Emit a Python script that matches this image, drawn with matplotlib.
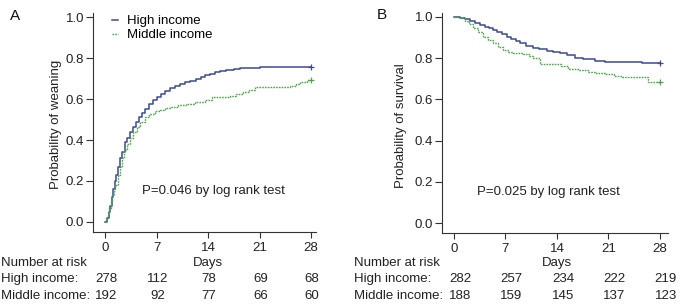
import matplotlib
matplotlib.use("Agg")
import matplotlib.pyplot as plt
import matplotlib.transforms as mtransforms

plt.rcParams['font.family'] = ['Liberation Sans', 'DejaVu Sans']
plt.rcParams['font.size'] = 9.5

BLUE = '#3b4a94'
GREEN = '#4aa84a'

day_ticks = [0, 7, 14, 21, 28]

# panel A: cumulative probability of weaning (step points)
a_high_t = [0, 0.3, 0.5, 0.7, 0.9, 1.1, 1.3, 1.5, 1.8, 2.0, 2.3, 2.7, 3.0, 3.4, 3.8, 4.2,
			4.6, 5.0, 5.5, 6.0, 6.5, 7.0, 7.6, 8.2, 8.8, 9.5, 10.2, 10.9, 11.6, 12.3, 13.0,
			13.6, 14.3, 15.0, 15.6, 16.5, 17.5, 18.3, 19.5, 21.1, 28]
a_high_p = [0, 0.02, 0.05, 0.08, 0.12, 0.16, 0.20, 0.23, 0.27, 0.31, 0.34, 0.39, 0.41, 0.44,
			0.465, 0.49, 0.51, 0.53, 0.55, 0.575, 0.595, 0.61, 0.625, 0.64, 0.655, 0.665, 0.675,
			0.685, 0.69, 0.70, 0.71, 0.715, 0.72, 0.73, 0.738, 0.742, 0.745, 0.75, 0.753, 0.757,
			0.757]
a_mid_t = [0, 0.2, 0.4, 0.6, 0.8, 1.0, 1.2, 1.4, 1.7, 2.0, 2.3, 2.6, 3.0, 3.4, 3.8, 4.3,
		   4.8, 5.4, 6.0, 6.8, 7.5, 8.2, 9.0, 9.9, 11.0, 12.2, 13.6, 14.5, 17.0, 17.8, 18.8,
		   19.6, 20.4, 25.1, 26.0, 26.5, 27.4, 28]
a_mid_p = [0, 0.02, 0.04, 0.07, 0.10, 0.13, 0.16, 0.18, 0.23, 0.27, 0.31, 0.35, 0.38, 0.41,
		   0.44, 0.465, 0.49, 0.51, 0.525, 0.54, 0.548, 0.555, 0.562, 0.57, 0.578, 0.587, 0.595,
		   0.61, 0.615, 0.625, 0.636, 0.645, 0.657, 0.663, 0.672, 0.684, 0.693, 0.693]

# panel B: probability of survival
b_high_t = [0, 0.8, 1.5, 2.2, 2.9, 3.5, 4.2, 4.8, 5.3, 5.9, 6.5, 7.2, 7.8, 8.4, 9.0, 9.8,
			10.8, 11.6, 12.6, 13.5, 14.4, 15.3, 16.4, 17.5, 19.2, 20.5, 22.8, 25.5, 27.2, 28]
b_high_p = [1.0, 0.996, 0.99, 0.98, 0.97, 0.961, 0.952, 0.944, 0.937, 0.928, 0.916, 0.904,
			0.893, 0.882, 0.872, 0.86, 0.848, 0.842, 0.836, 0.83, 0.824, 0.815, 0.80, 0.795,
			0.787, 0.782, 0.78, 0.778, 0.775, 0.775]
b_mid_t = [0, 0.8, 1.5, 2.0, 2.6, 3.2, 3.9, 4.6, 5.3, 6.0, 6.7, 7.3, 8.0, 9.4, 10.2, 10.8,
		   11.7, 14.6, 15.5, 16.8, 18.2, 19.3, 20.5, 21.7, 22.8, 26.4, 28]
b_mid_p = [1.0, 0.995, 0.982, 0.965, 0.945, 0.925, 0.904, 0.888, 0.872, 0.856, 0.84, 0.832,
		   0.824, 0.819, 0.81, 0.80, 0.772, 0.762, 0.746, 0.74, 0.732, 0.728, 0.723, 0.715,
		   0.707, 0.686, 0.686]

a_risk_high = [278, 112, 78, 69, 68]
a_risk_mid = [192, 92, 77, 66, 60]
b_risk_high = [282, 257, 234, 222, 219]
b_risk_mid = [188, 159, 145, 137, 123]


def km_panel(fig, rect, xlim, ylim, high, mid, ylabel, ylab_x, ptext, risk_high, risk_mid,
			 row_x, num_dx, letter, letter_xy, legend=False):
	ax = fig.add_axes(rect)
	ax.plot(high[0], high[1], drawstyle='steps-post', color=BLUE, lw=1.1, label='High income')
	ax.plot(mid[0], mid[1], drawstyle='steps-post', color=GREEN, lw=1.0,
			ls=(0, (1.2, 0.8)), label='Middle income')
	ax.plot(high[0][-1], high[1][-1], marker='+', color=BLUE, ms=5, mew=0.9)
	ax.plot(mid[0][-1], mid[1][-1], marker='+', color=GREEN, ms=5, mew=0.9)
	ax.set_xlim(*xlim)
	ax.set_ylim(*ylim)
	ax.set_xticks(day_ticks)
	ax.set_yticks([0, 0.2, 0.4, 0.6, 0.8, 1.0])
	ax.set_yticklabels(['0.0', '0.2', '0.4', '0.6', '0.8', '1.0'])
	for s in ['top', 'right']:
		ax.spines[s].set_visible(False)
	for s in ['left', 'bottom']:
		ax.spines[s].set_linewidth(0.8)
		ax.spines[s].set_color('#333333')
	ax.tick_params(axis='y', length=5, width=0.8, pad=1.5, colors='#333333', labelcolor='#222222')
	ax.tick_params(axis='x', length=4, width=0.8, pad=3, colors='#333333', labelcolor='#222222')
	ax.set_ylabel(ylabel, color='#222222')
	ax.yaxis.set_label_coords(ylab_x, 0.49)
	ax.text(ptext[0], ptext[1], 'P=%s by log rank test' % ptext[2], ha='center', va='center',
			color='#222222')
	if legend:
		ax.legend(loc='upper left', bbox_to_anchor=(0.085, 0.99), frameon=False,
				  handlelength=0.45, handletextpad=0.7, labelspacing=0.12, borderpad=0,
				  borderaxespad=0)

	# number at risk table under the axis
	tr_fig = mtransforms.blended_transform_factory(ax.transData, fig.transFigure)
	tr = mtransforms.offset_copy(tr_fig, fig=fig, x=num_dx, y=0, units='dots')
	fig.text(row_x, 1 - 263 / 307, 'Number at risk', va='center', color='#222222')
	fig.text(row_x, 1 - 279 / 307, 'High income:', va='center', color='#222222')
	fig.text(row_x, 1 - 296 / 307, 'Middle income:', va='center', color='#222222')
	ax.text(14, 1 - 263 / 307, 'Days', ha='center', va='center', color='#222222', transform=tr_fig)
	for d, h, m in zip(day_ticks, risk_high, risk_mid):
		ax.text(d, 1 - 279 / 307, str(h), ha='center', va='center', color='#222222', transform=tr)
		ax.text(d, 1 - 296 / 307, str(m), ha='center', va='center', color='#222222', transform=tr)
	fig.text(letter_xy[0], letter_xy[1], letter, fontsize=11, ha='left', va='center',
			 color='#111111')
	return ax


fig = plt.figure(figsize=(6.81, 3.07), dpi=100)

km_panel(fig, [93 / 681, 1 - 232 / 307, 223 / 681, 219 / 307], (-1.63, 28.67), (-0.049, 1.02),
		 (a_high_t, a_high_p), (a_mid_t, a_mid_p), 'Probability of weaning', -0.14,
		 (14.8, 0.15, '0.046'), a_risk_high, a_risk_mid, 0.002, 1, 'A',
		 (10 / 681, 1 - 16 / 307), legend=True)
km_panel(fig, [442 / 681, 1 - 233 / 307, 226 / 681, 220 / 307], (-1.63, 29.1), (-0.0485, 1.019),
		 (b_high_t, b_high_p), (b_mid_t, b_mid_p), 'Probability of survival', -0.155,
		 (12.9, 0.15, '0.025'), b_risk_high, b_risk_mid, 354 / 681, 6, 'B',
		 (377 / 681, 1 - 15 / 307))

fig.savefig('out.png', dpi=100)
